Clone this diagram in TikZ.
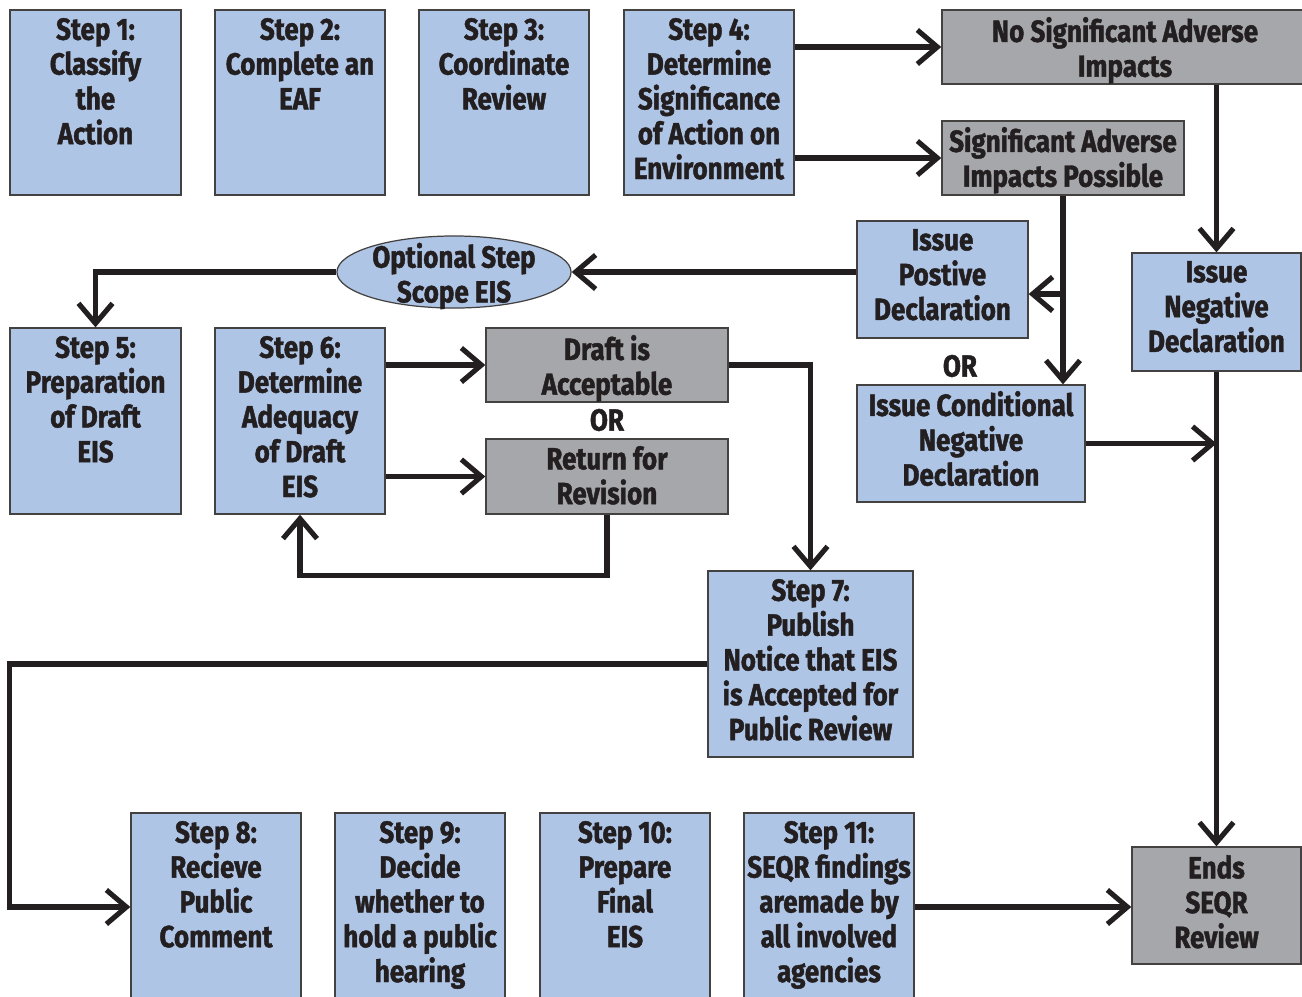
\documentclass[tikz,border=0pt]{standalone}
\usepackage{fontspec}
\setmainfont{Fira Sans}[FakeStretch=0.85, BoldFeatures={FakeBold=1.4}]
\usetikzlibrary{positioning,shapes.geometric,arrows.meta}

\definecolor{boxblue}{HTML}{AFC5E6}
\definecolor{boxgray}{HTML}{A6A7AB}
\definecolor{ink}{HTML}{231F20}

\begin{document}
\begin{tikzpicture}[x=0.01cm, y=-0.01cm,
		every node/.style = {font=\fontsize{8.7}{9.9}\selectfont\bfseries, text=ink},
		blue box/.style = {shape=rectangle, draw=ink!85, line width=0.35pt, fill=boxblue, inner sep=0pt},
		gray box/.style = {blue box, fill=boxgray},
		box text/.style = {align=center, inner sep=0pt},
		flow/.style = {draw=ink, line width=1.45pt,
			-{Straight Barb[length=0.2cm, width=0.34cm, line width=1.45pt]}}]
	\useasboundingbox (0,0) rectangle (1302,996);
	\clip (0,0) rectangle (1302,996);

	% top row
	\node[blue box, minimum width=1.71cm, minimum height=1.85cm] (s1) at (95.5,102.5) {};
	\node[blue box, minimum width=1.70cm, minimum height=1.85cm] (s2) at (300,102.5) {};
	\node[blue box, minimum width=1.70cm, minimum height=1.85cm] (s3) at (504,102.5) {};
	\node[blue box, minimum width=1.70cm, minimum height=1.85cm] (s4) at (709,102.5) {};
	\node[gray box, minimum width=3.66cm, minimum height=0.74cm] (nosig) at (1125,47) {};
	\node[gray box, minimum width=2.42cm, minimum height=0.74cm] (sigpos) at (1063,158) {};

	% declarations
	\node[blue box, minimum width=1.71cm, minimum height=1.17cm] (postive) at (942.5,279.5) {};
	\node[blue box, minimum width=2.28cm, minimum height=1.17cm] (condneg) at (971,443.5) {};
	\node[blue box, minimum width=1.69cm, minimum height=1.18cm] (negdecl) at (1216.5,312) {};
	\node[shape=ellipse, draw=ink!85, line width=0.35pt, fill=boxblue, inner sep=0pt,
		minimum width=2.34cm, minimum height=0.72cm] (scope) at (454,272) {};

	% draft EIS
	\node[blue box, minimum width=1.71cm, minimum height=1.86cm] (s5) at (95.5,421) {};
	\node[blue box, minimum width=1.70cm, minimum height=1.86cm] (s6) at (300,421) {};
	\node[gray box, minimum width=2.42cm, minimum height=0.74cm] (draft) at (607,365) {};
	\node[gray box, minimum width=2.42cm, minimum height=0.75cm] (ret) at (607,476.5) {};
	\node[blue box, minimum width=2.05cm, minimum height=1.86cm] (s7) at (810.5,664) {};

	% bottom row
	\node[blue box, minimum width=1.70cm, minimum height=1.88cm] (s8) at (216,907) {};
	\node[blue box, minimum width=1.70cm, minimum height=1.88cm] (s9) at (420,907) {};
	\node[blue box, minimum width=1.70cm, minimum height=1.88cm] (s10) at (625,907) {};
	\node[blue box, minimum width=1.70cm, minimum height=1.88cm] (s11) at (829,907) {};
	\node[gray box, minimum width=1.69cm, minimum height=1.17cm] (ends) at (1216.5,905.5) {};

	% box texts
	\node[box text, below=0.08cm of s1.north] (s1t) {Step 1:\\Classify\\the\\Action};
	\node[box text, below=0.08cm of s2.north] (s2t) {Step 2:\\Complete an\\EAF};
	\node[box text, below=0.08cm of s3.north] (s3t) {Step 3:\\Coordinate\\Review};
	\node[box text, below=0.08cm of s4.north] (s4t) {Step 4:\\Determine\\Significance\\of Action on\\Environment};
	\node[box text, below=0.07cm of nosig.north] (nosigt) {No Significant Adverse\\Impacts};
	\node[box text, below=0.06cm of sigpos.north] (sigpost) {Significant Adverse\\Impacts Possible};
	\node[box text, below=0.08cm of postive.north] (postivet) {Issue\\Postive\\Declaration};
	\node[box text, below=0.06cm of condneg.north] (condnegt) {Issue Conditional\\Negative\\Declaration};
	\node[box text, below=0.08cm of negdecl.north] (negdeclt) {Issue\\Negative\\Declaration};
	\node[box text] (scopet) at ([yshift=-0.04cm]scope.center) {Optional Step\\Scope EIS};
	\node[box text, below=0.08cm of s5.north] (s5t) {Step 5:\\Preparation\\of Draft\\EIS};
	\node[box text, below=0.08cm of s6.north] (s6t) {Step 6:\\Determine\\Adequacy\\of Draft\\EIS};
	\node[box text, below=0.07cm of draft.north] (draftt) {Draft is\\Acceptable};
	\node[box text, below=0.07cm of ret.north] (rett) {Return for\\Revision};
	\node[box text, below=0.08cm of s7.north] (s7t) {Step 7:\\Publish\\Notice that EIS\\is Accepted for\\Public Review};
	\node[box text, below=0.08cm of s8.north] (s8t) {Step 8:\\Recieve\\Public\\Comment};
	\node[box text, below=0.08cm of s9.north] (s9t) {Step 9:\\Decide\\whether to\\hold a public\\hearing};
	\node[box text, below=0.08cm of s10.north] (s10t) {Step 10:\\Prepare\\Final\\EIS};
	\node[box text, below=0.08cm of s11.north] (s11t) {Step 11:\\SEQR findings\\aremade by\\all involved\\agencies};
	\node[box text, below=0.08cm of ends.north] (endst) {Ends\\SEQR\\Review};
	\node (or1) at (960,366) {OR};
	\node (or2) at (607,420) {OR};

	% connectors
	\draw[flow] (s4.east |- nosig) -- (nosig.west);
	\draw[flow] (s4.east |- sigpos) -- (sigpos.west);
	\draw[flow] (negdecl.north |- nosig.south) -- (negdecl.north);
	\draw[flow] (sigpos.south) -- (sigpos.south |- condneg.north);
	\draw[flow] (sigpos.south |- 0,294) -- (postive.east |- 0,294);
	\draw[flow] (postive.west |- scope.east) -- (scope.east);
	\draw[flow] (scope.west) -| (s5.north);
	\draw[flow] (s6.east |- draft) -- (draft.west);
	\draw[flow] (s6.east |- ret) -- (ret.west);
	\draw[flow] (draft.east) -| (s7.north);
	\draw[flow] (ret.south) -- ++(0,61) -| (s6.south);
	\draw[flow] (s7.west) -- ++(-698,0) |- (s8.west);
	\draw[flow] (negdecl.south) -- (ends.north);
	\draw[flow] (condneg.east) -- (negdecl.south |- condneg.east);
	\draw[flow] (s11.east) -- (s11.east -| ends.west);
\end{tikzpicture}
\end{document}
